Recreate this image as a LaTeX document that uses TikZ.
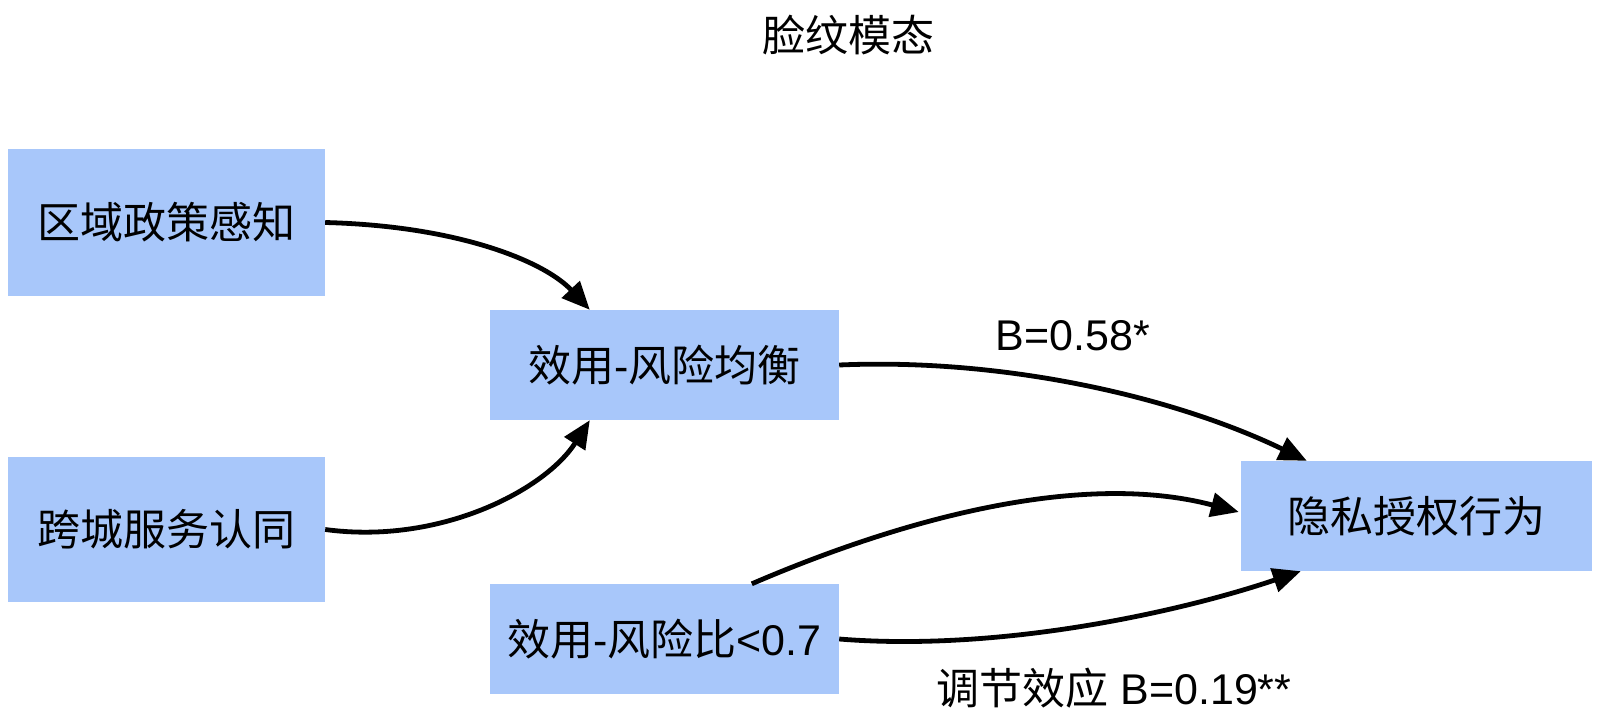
\documentclass[tikz,border=0pt]{standalone}
\usepackage{fontspec}
\setmainfont{Liberation Sans}
\newfontfamily\cjk{Noto Sans CJK SC}
\usetikzlibrary{arrows.meta,calc}
\definecolor{boxblue}{RGB}{168,199,250}
\begin{document}
\begin{tikzpicture}[x=1pt,y=-1pt,
  box/.style={fill=boxblue, draw=none, inner sep=0pt, font=\fontsize{43}{50}\selectfont},
  conn/.style={line width=4.8pt, -{Triangle[length=28pt,width=24pt]}},
  lbl/.style={font=\fontsize{43}{50}\selectfont}]
\useasboundingbox (0,0) rectangle (1600,720);
\node[box, minimum width=317pt, minimum height=147pt] (b1) at (166.5,222.5) {{\cjk 区域政策感知}};
\node[box, minimum width=317pt, minimum height=145pt] (b2) at (166.5,529.5) {{\cjk 跨城服务认同}};
\node[box, minimum width=349pt, minimum height=110pt] (b3) at (664.5,365) {{\cjk 效用}-{\cjk 风险均衡}};
\node[box, minimum width=349pt, minimum height=110pt] (b4) at (664.5,639) {{\cjk 效用}-{\cjk 风险比}<0.7};
\node[box, minimum width=351pt, minimum height=110pt] (b5) at (1416.5,516) {{\cjk 隐私授权行为}};
\node[lbl] (t) at (848,35) {{\cjk 脸纹模态}};
\node[lbl] (l1) at (1073,336) {B=0.58*};
\node[lbl] (l2) at (1114,688) {{\cjk 调节效应} B=0.19**};
\coordinate (e4s) at ($(b4.north west)+(262,0)$);
\draw[conn] (b1.east) .. controls (460,226) and (545,262) .. ($(b3.north west)+(100,0)$);
\draw[conn] (b2.east) .. controls (440,545) and (545,490) .. ($(b3.south west)+(100,0)$);
\draw[conn] (b3.east) .. controls (1000,358) and (1170,395) .. ($(b5.north west)+(66,0)$);
\draw[conn] (e4s) .. controls (900,520) and (1080,470) .. ($(b5.west)+(-2,-4)$);
\draw[conn] (b4.east) .. controls (1000,652) and (1180,612) .. ($(b5.south west)+(60,0)$);
\end{tikzpicture}
\end{document}
